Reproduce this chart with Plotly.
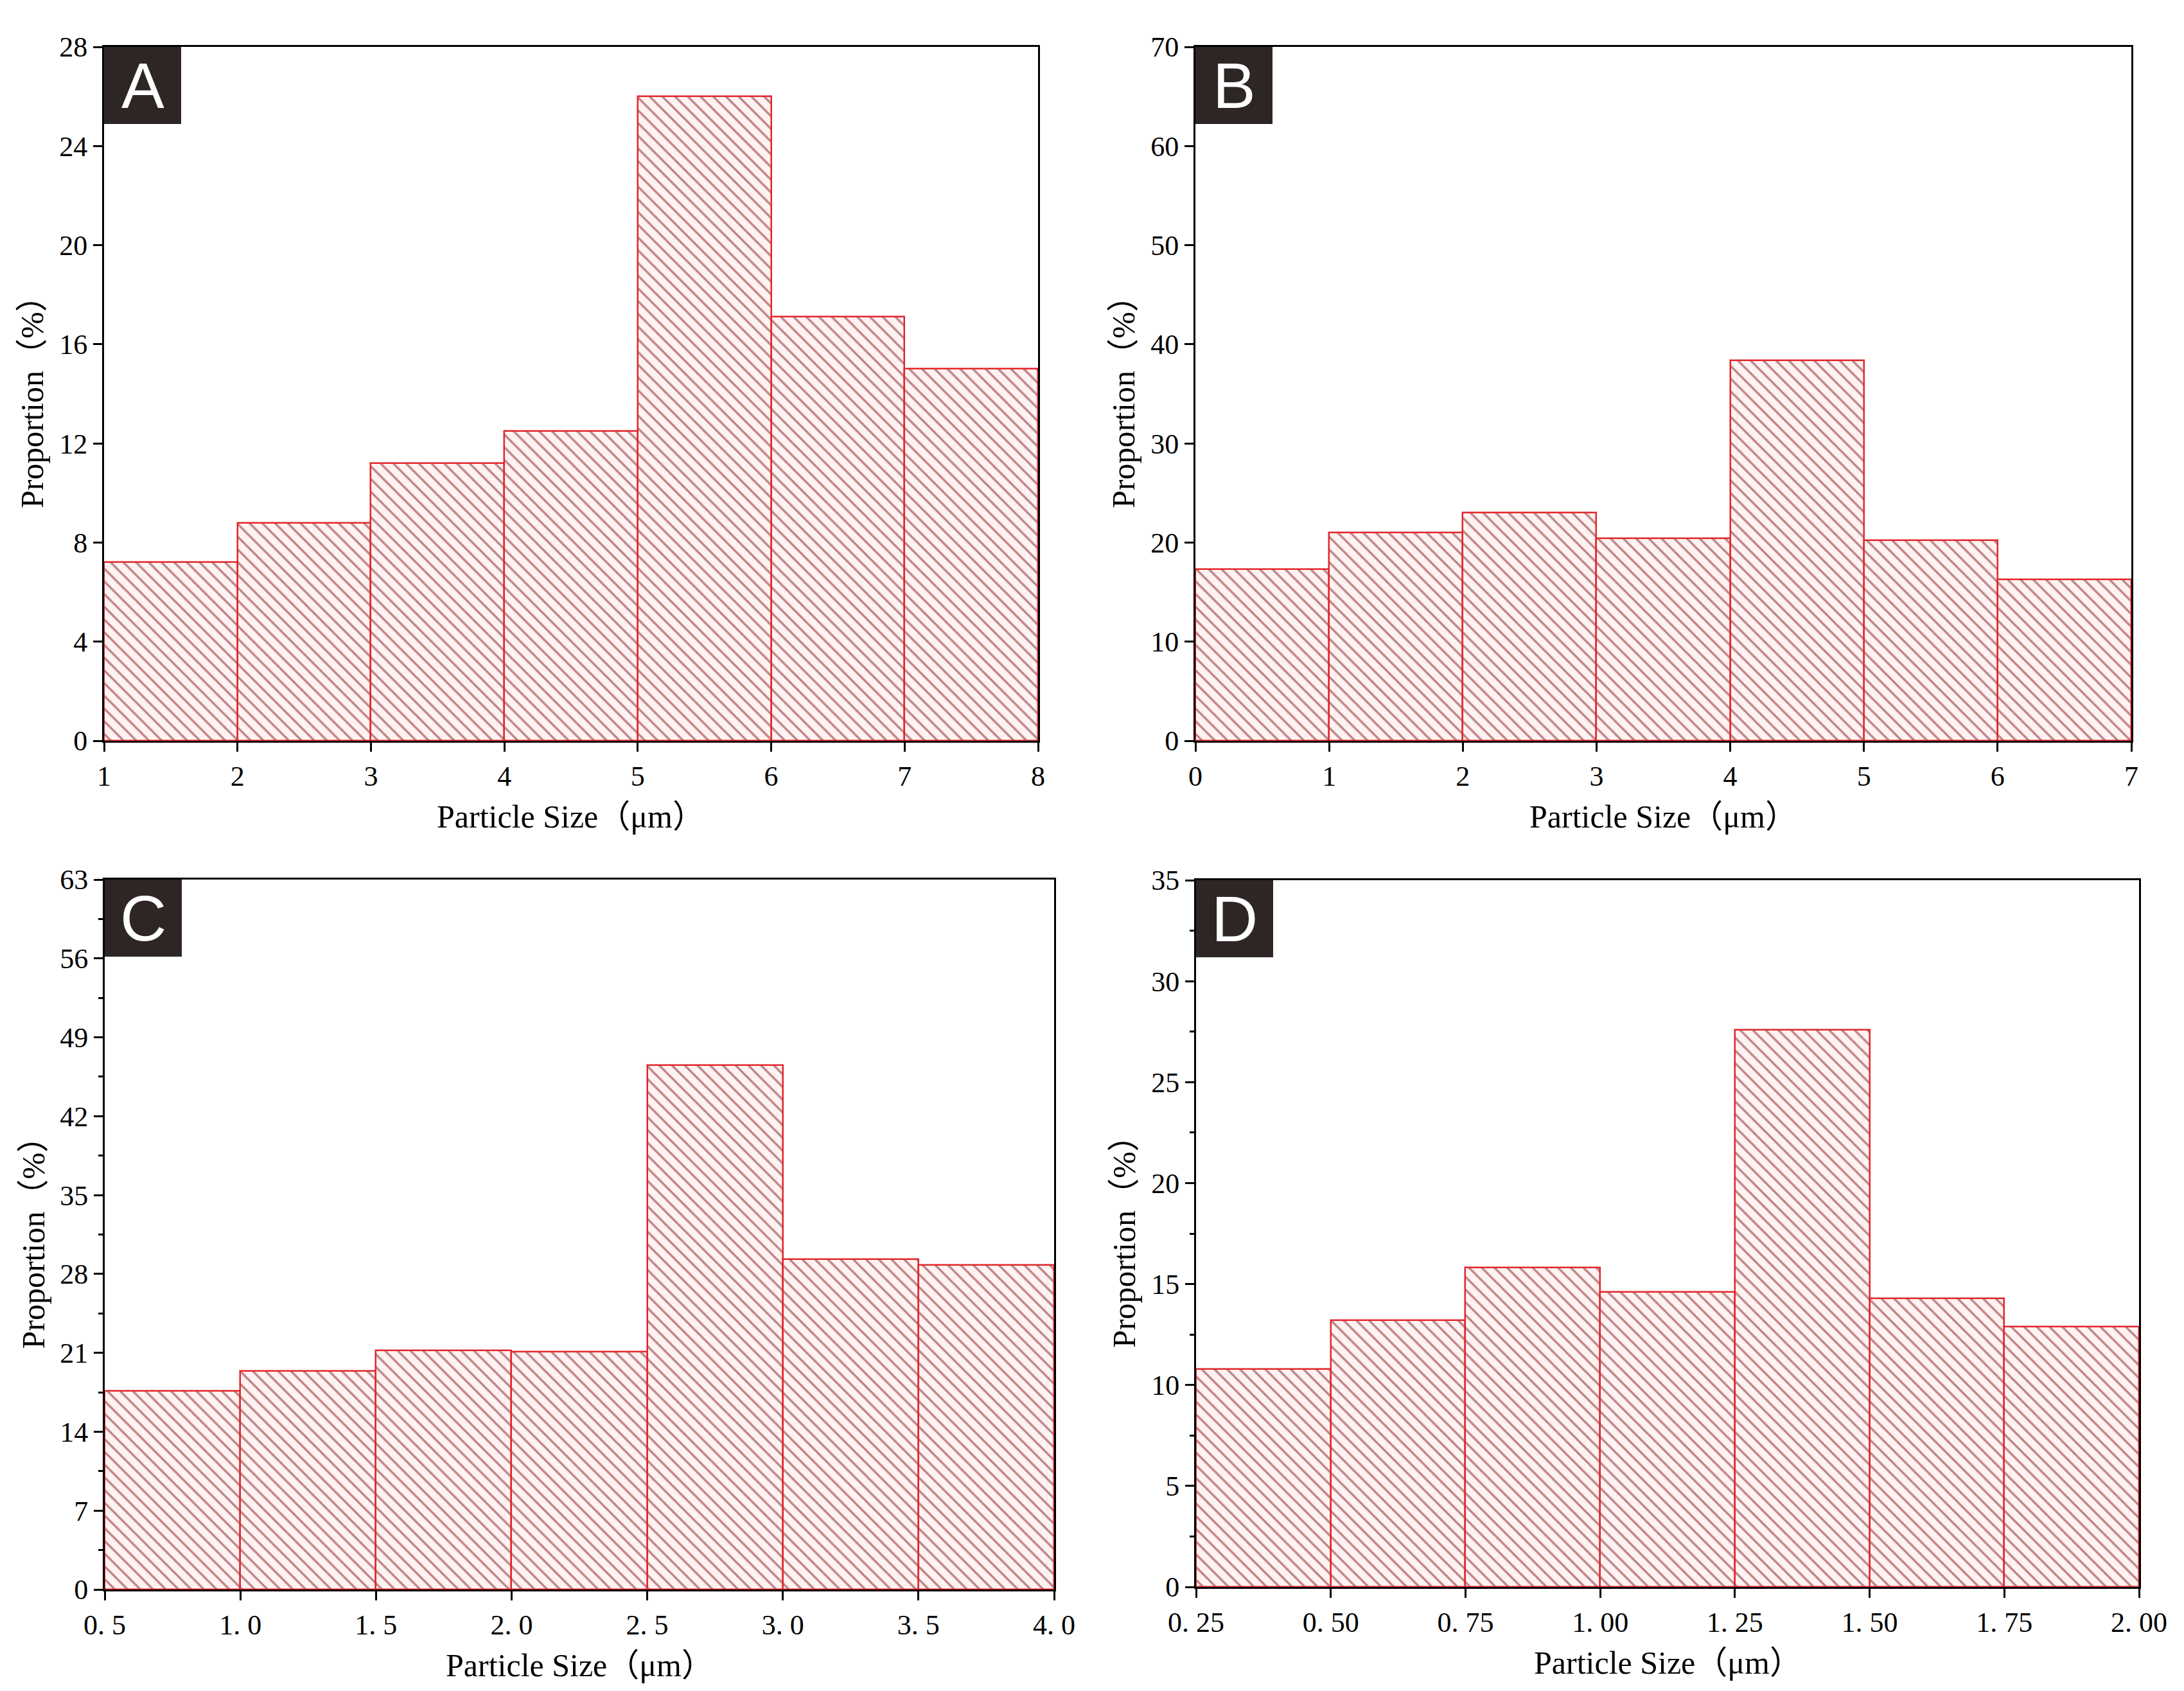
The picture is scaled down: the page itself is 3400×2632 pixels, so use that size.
import plotly.graph_objects as go

W, H = 3400, 2632

# ---- data ----
edges_a = [1, 2, 3, 4, 5, 6, 7, 8]
vals_a = [7.2, 8.8, 11.2, 12.5, 26.0, 17.1, 15.0]

edges_b = [0, 1, 2, 3, 4, 5, 6, 7]
vals_b = [17.3, 21.0, 23.0, 20.4, 38.4, 20.2, 16.3]

edges_c = [0.5, 1.0, 1.5, 2.0, 2.5, 3.0, 3.5, 4.0]
vals_c = [17.6, 19.4, 21.2, 21.1, 46.5, 29.3, 28.8]

edges_d = [0.25, 0.50, 0.75, 1.00, 1.25, 1.50, 1.75, 2.00]
vals_d = [10.8, 13.2, 15.8, 14.6, 27.6, 14.3, 12.9]

xtick_a = ["1", "2", "3", "4", "5", "6", "7", "8"]
xtick_b = ["0", "1", "2", "3", "4", "5", "6", "7"]
xtick_c = ["0. 5", "1. 0", "1. 5", "2. 0", "2. 5", "3. 0", "3. 5", "4. 0"]
xtick_d = ["0. 25", "0. 50", "0. 75", "1. 00", "1. 25", "1. 50", "1. 75", "2. 00"]

yrange = {"a": (0, 28, 4), "b": (0, 70, 10), "c": (0, 63, 7), "d": (0, 35, 5)}
labels = ["A", "B", "C", "D"]

x_title = "Particle Size（μm）"
y_title = "Proportion（%）"

# ---- layout in pixels: (left, right, top, bottom) ----
boxes = {
    "a": (154, 1608, 65, 1145),
    "b": (1853, 3310, 65, 1145),
    "c": (155, 1633, 1361, 2466),
    "d": (1854, 3322, 1362, 2462),
}

def fx(p):
    return p / W

def fy(p):
    return 1 - p / H

SERIF = "Liberation Serif, Times New Roman, Noto Sans CJK SC, serif"

fig = go.Figure()
panels = [
    ("a", edges_a, vals_a, xtick_a, "x", "y", False),
    ("b", edges_b, vals_b, xtick_b, "x2", "y2", False),
    ("c", edges_c, vals_c, xtick_c, "x3", "y3", True),
    ("d", edges_d, vals_d, xtick_d, "x4", "y4", True),
]

for i, (key, edges, vals, xt, xa, ya, minor) in enumerate(panels):
    centers = [(edges[k] + edges[k + 1]) / 2 for k in range(len(vals))]
    widths = [edges[k + 1] - edges[k] for k in range(len(vals))]
    fig.add_trace(go.Bar(
        x=centers, y=vals, width=widths, xaxis=xa, yaxis=ya,
        marker=dict(
            color="white",
            line=dict(color="#e3262b", width=2.5),
            pattern=dict(shape="\\", fgcolor="#801719", bgcolor="#fff2f2",
                         size=14, solidity=0.24),
        ),
        showlegend=False, hoverinfo="skip",
    ))
    l, r, t, b = boxes[key]
    sfx = "" if i == 0 else str(i + 1)
    y0, y1, dy = yrange[key]
    xaxis = dict(
        domain=[fx(l), fx(r)], range=[edges[0], edges[-1]], anchor=ya,
        tickmode="array", tickvals=edges, ticktext=xt,
        showline=True, linecolor="black", linewidth=3, mirror=True,
        ticks="outside", ticklen=14, tickwidth=3, tickcolor="black",
        showgrid=False, zeroline=False, automargin=False,
        tickfont=dict(family=SERIF, size=44, color="black"),
    )
    yaxis = dict(
        domain=[fy(b), fy(t)], range=[y0, y1], anchor=xa,
        tickmode="linear", tick0=0, dtick=dy,
        showline=True, linecolor="black", linewidth=3, mirror=True,
        ticks="outside", ticklen=14, tickwidth=3, tickcolor="black",
        showgrid=False, zeroline=False, automargin=False,
        tickfont=dict(family=SERIF, size=44, color="black"),
    )
    if minor:
        yaxis["minor"] = dict(dtick=dy / 2, ticks="outside", ticklen=7,
                              tickwidth=3, tickcolor="black", showgrid=False)
    fig.layout["xaxis" + sfx] = xaxis
    fig.layout["yaxis" + sfx] = yaxis

    # panel label box
    fig.add_shape(type="rect", xref="paper", yref="paper",
                  x0=fx(l), x1=fx(l + 120), y0=fy(t + 120), y1=fy(t),
                  fillcolor="#2e2624", line=dict(width=0), layer="above")
    fig.add_annotation(xref="paper", yref="paper", x=fx(l + 60), y=fy(t + 60),
                       text=labels[i], showarrow=False,
                       font=dict(family="Liberation Sans, Arial, sans-serif",
                                 size=100, color="white"),
                       xanchor="center", yanchor="middle")
    # axis titles
    fig.add_annotation(xref="paper", yref="paper", x=fx((l + r) / 2), y=fy(b + 118),
                       text=x_title, showarrow=False,
                       font=dict(family=SERIF, size=50, color="black"),
                       xanchor="center", yanchor="middle")
    fig.add_annotation(xref="paper", yref="paper", x=fx(l - 112), y=fy((t + b) / 2),
                       text=y_title, showarrow=False, textangle=-90,
                       font=dict(family=SERIF, size=50, color="black"),
                       xanchor="center", yanchor="middle")

fig.update_layout(
    width=W, height=H,
    margin=dict(l=0, r=0, t=0, b=0),
    paper_bgcolor="white", plot_bgcolor="white",
    barmode="overlay", bargap=0,
)

fig.write_html("out.html")
